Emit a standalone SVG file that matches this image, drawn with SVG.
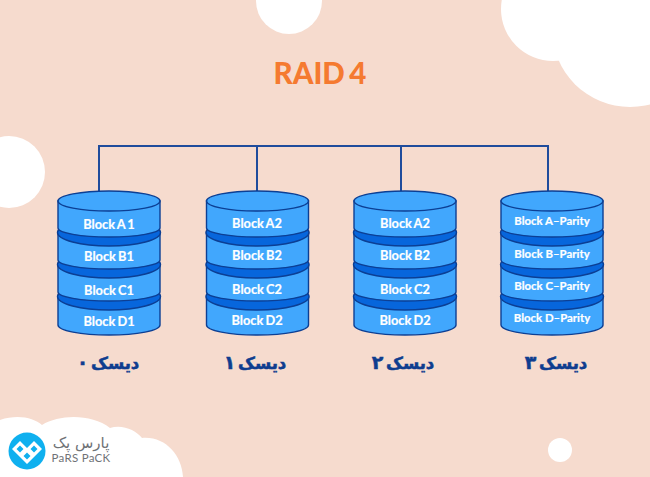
<svg xmlns="http://www.w3.org/2000/svg" width="650" height="477" viewBox="0 0 650 477">
<style>
.bg{fill:#fff}
.body{fill:#41a7fd;stroke:#0c3f94;stroke-width:1.4}
.band{fill:#0766dc;stroke:#0c3f94;stroke-width:1.4}
.lb{font-family:"Lato","Liberation Sans",sans-serif;font-weight:700;font-size:12.8px;fill:#fff;stroke:#fff;stroke-width:.2;text-anchor:middle;word-spacing:-1px}
.lp{font-size:11.4px;word-spacing:0}
.fa{font-family:"DejaVu Sans","Noto Sans",sans-serif;font-weight:700;font-size:16.5px;fill:#0f3d8f;stroke:#0f3d8f;stroke-width:.5;text-anchor:middle;word-spacing:-3px}
.dg{font-size:19px}
.conn{fill:none;stroke:#1f4c9c;stroke-width:2}
</style>
<defs>
<g id="cyl">
<path class="body" d="M0,297V325A51,10 0 0 0 102,325V297Z"/>
<ellipse class="band" cx="51" cy="296.500" rx="51.500" ry="13.500"/>
<path class="body" d="M0,265V292A51,9 0 0 0 102,292V265Z"/>
<ellipse class="band" cx="51" cy="264.500" rx="51.500" ry="13.500"/>
<path class="body" d="M0,233V260A51,9 0 0 0 102,260V233Z"/>
<ellipse class="band" cx="51" cy="232.500" rx="51.500" ry="13.500"/>
<path class="body" d="M0,201V228A51,9 0 0 0 102,228V201Z"/>
<ellipse class="body" cx="51" cy="201" rx="51" ry="10"/>
</g>
</defs>
<rect width="650" height="477" fill="#f6dbce"/>
<g id="decor">
<circle class="bg" cx="289" cy="1" r="33"/>
<circle class="bg" cx="9" cy="172" r="36"/>
<circle class="bg" cx="560" cy="450" r="12"/>
<circle class="bg" cx="553" cy="9" r="52"/>
<circle class="bg" cx="630" cy="29" r="78"/>
<path class="bg" d="M0,420C18,414 34,418 42,425C60,414 92,414 110,428C122,424 136,430 142,438C165,436 182,455 183,477H0Z"/>
</g>
<g id="logo">
<circle cx="27" cy="451" r="18.500" fill="#0fb0ef"/>
<path d="M27,464L12,449L20,441L27,448L34,441L42,449Z" fill="#fff"/>
<path d="M20,445.500L16.500,449L20,452.500L23.500,449ZM34,445.500L30.500,449L34,452.500L37.500,449ZM27,452.500L23.500,456L27,459.500L30.500,456Z" fill="#0fb0ef"/>
<text x="81" y="448" style="font-family:'DejaVu Sans',sans-serif;font-weight:400;font-size:15px;fill:#6f7276;text-anchor:middle">پارس پک</text>
<text x="81" y="462" style="font-family:'Lato',sans-serif;font-weight:400;font-size:11.500px;fill:#6f7276;text-anchor:middle;letter-spacing:.3px">PaRS PaCK</text>
</g>
<text id="title" x="320" y="83.500" style="font-family:'Lato','Liberation Sans',sans-serif;font-weight:900;font-size:29.500px;fill:#f57a30;text-anchor:middle;word-spacing:-2.500px">RAID 4</text>
<g id="connectors">
<path class="conn" d="M99,191V146H548V191M257,146V191M401,146V191"/>
</g>
<g id="disk0">
<use href="#cyl" x="58"/>
<text class="lb" x="109" y="229">Block A 1</text>
<text class="lb" x="109" y="261">Block B1</text>
<text class="lb" x="109" y="295">Block C1</text>
<text class="lb" x="109" y="326">Block D1</text>
<text class="fa" x="108" y="369" direction="rtl">دیسک <tspan class="dg">۰</tspan></text>
</g>
<g id="disk1">
<use href="#cyl" x="206.500"/>
<text class="lb" x="257" y="228">Block A2</text>
<text class="lb" x="257" y="260">Block B2</text>
<text class="lb" x="257" y="294">Block C2</text>
<text class="lb" x="257" y="325">Block D2</text>
<text class="fa" x="255" y="369" direction="rtl">دیسک <tspan class="dg">۱</tspan></text>
</g>
<g id="disk2">
<use href="#cyl" x="354"/>
<text class="lb" x="405" y="228">Block A2</text>
<text class="lb" x="405" y="260">Block B2</text>
<text class="lb" x="405" y="294">Block C2</text>
<text class="lb" x="405" y="325">Block D2</text>
<text class="fa" x="403" y="369" direction="rtl">دیسک <tspan class="dg">۲</tspan></text>
</g>
<g id="disk3">
<use href="#cyl" x="501"/>
<text class="lb lp" x="552" y="225">Block A–Parity</text>
<text class="lb lp" x="552" y="258">Block B–Parity</text>
<text class="lb lp" x="552" y="290">Block C–Parity</text>
<text class="lb lp" x="552" y="322">Block D–Parity</text>
<text class="fa" x="556" y="369" direction="rtl">دیسک <tspan class="dg">۳</tspan></text>
</g>
</svg>
